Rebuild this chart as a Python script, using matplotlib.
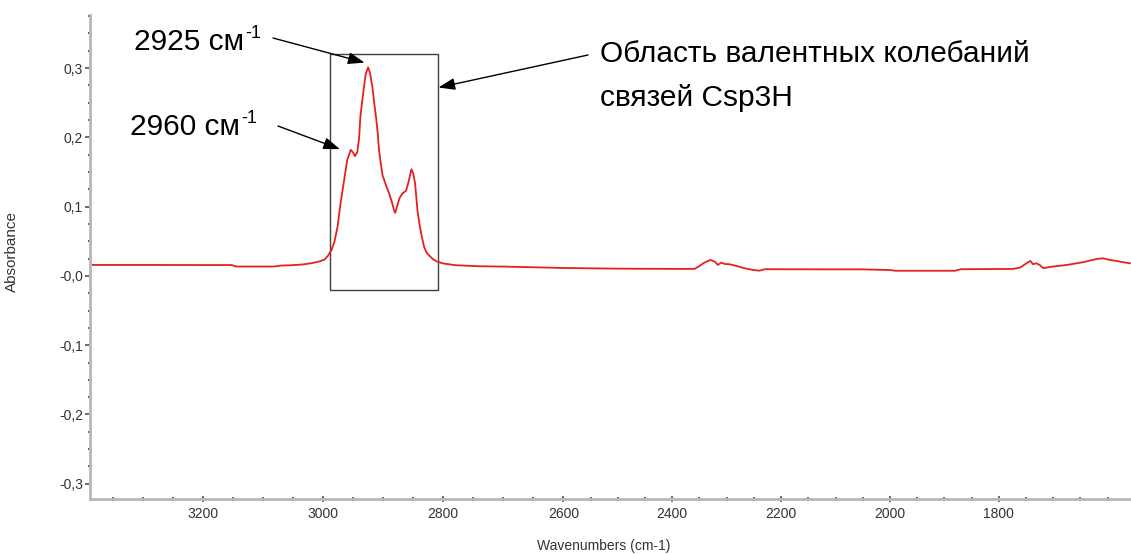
import matplotlib
matplotlib.use("Agg")
import matplotlib.pyplot as plt
import numpy as np
from matplotlib.patches import Rectangle
from matplotlib.ticker import MultipleLocator, FixedLocator

plt.rcParams['font.family'] = ['Liberation Sans', 'DejaVu Sans']

# IR spectrum, wavenumber (cm-1) vs absorbance
wavenumber = [3384, 3300, 3200, 3152, 3145, 3082, 3070, 3054, 3035, 3020, 3008,
              2998, 2992, 2986, 2981, 2976, 2971, 2965, 2960, 2954, 2950, 2947,
              2943, 2940, 2938, 2935, 2932, 2929, 2925, 2922, 2918, 2915, 2912,
              2909, 2907, 2904, 2901, 2899, 2895, 2890, 2885, 2882, 2880, 2877,
              2873, 2868, 2862, 2858, 2853, 2850, 2847, 2845, 2843, 2840, 2837,
              2832, 2828, 2824, 2817, 2810, 2800, 2780, 2740, 2700, 2650, 2600,
              2500, 2400, 2359, 2350, 2341, 2330, 2322, 2316, 2310, 2304, 2295,
              2282, 2267, 2252, 2240, 2230, 2100, 2050, 2000, 1990, 1880, 1870,
              1774, 1761, 1749, 1742, 1737, 1731, 1725, 1718, 1706, 1675, 1645,
              1620, 1609, 1596, 1583, 1572, 1559]
absorbance = [0.0159, 0.0159, 0.0157, 0.0157, 0.0136, 0.0136, 0.0150, 0.0154,
              0.0165, 0.0183, 0.0205, 0.0235, 0.0290, 0.0375, 0.050, 0.071,
              0.105, 0.1385, 0.167, 0.182, 0.178, 0.173, 0.179, 0.200, 0.230,
              0.252, 0.273, 0.292, 0.301, 0.293, 0.273, 0.250, 0.230, 0.205,
              0.182, 0.162, 0.145, 0.140, 0.130, 0.119, 0.105, 0.095, 0.091,
              0.100, 0.112, 0.119, 0.123, 0.135, 0.154, 0.148, 0.134, 0.115,
              0.095, 0.077, 0.062, 0.042, 0.034, 0.030, 0.024, 0.0206, 0.018,
              0.0155, 0.014, 0.0135, 0.0125, 0.0115, 0.0105, 0.0102, 0.0101,
              0.0144, 0.0192, 0.0231, 0.0206, 0.0159, 0.0192, 0.0173, 0.0169,
              0.0144, 0.0111, 0.0087, 0.0076, 0.0097, 0.0095, 0.0095, 0.0085,
              0.0075, 0.0075, 0.0097, 0.0101, 0.0120, 0.0183, 0.0216, 0.0169,
              0.0183, 0.0159, 0.0111, 0.0130, 0.0159, 0.0198, 0.0245, 0.0255,
              0.0231, 0.0216, 0.0198, 0.0183]

x_ticks = [3200, 3000, 2800, 2600, 2400, 2200, 2000, 1800]
y_ticks = [-0.3, -0.2, -0.1, 0.0, 0.1, 0.2, 0.3]
y_tick_labels = ['-0,3', '-0,2', '-0,1', '-0,0', '0,1', '0,2', '0,3']

# the wavenumber axis is drawn with a wider step above 2600 than below
def fwd(x):
    x = np.asarray(x, dtype=float)
    return np.where(x >= 2600, (x - 2600) * 0.600, (x - 2600) * 0.5435)

def inv(u):
    u = np.asarray(u, dtype=float)
    return np.where(u >= 0, u / 0.600 + 2600, u / 0.5435 + 2600)

fig = plt.figure(figsize=(11.31, 5.54), dpi=100)
ax = fig.add_axes([0.0796, 0.0993, 0.9204, 0.874])
ax.set_xscale('function', functions=(fwd, inv))

ax.plot(wavenumber, absorbance, color='#e62020', lw=1.3)

ax.set_xlim(3388, 1557)
ax.set_ylim(-0.322, 0.377)

ax.xaxis.set_major_locator(FixedLocator(x_ticks))
ax.xaxis.set_minor_locator(MultipleLocator(50))
ax.set_xticklabels([str(t) for t in x_ticks])
ax.set_yticks(y_ticks)
ax.set_yticklabels(y_tick_labels)
ax.yaxis.set_minor_locator(MultipleLocator(0.025))

for side in ['top', 'right']:
    ax.spines[side].set_visible(False)
for side in ['left', 'bottom']:
    ax.spines[side].set_color('#b8b8b8')
    ax.spines[side].set_linewidth(2.0)

ax.tick_params(axis='both', which='major', labelsize=10, labelcolor='#333333',
               color='#444444', width=1.1)
ax.tick_params(axis='x', which='major', direction='inout', length=5, pad=3)
ax.tick_params(axis='y', which='major', direction='out', length=3.5, pad=1.5)
ax.tick_params(axis='both', which='minor', direction='inout', length=2.2,
               width=1.2, color='#444444')

ax.set_xlabel('Wavenumbers (cm-1)', fontsize=10, color='#333333')
ax.xaxis.set_label_coords(0.493, -0.082)
ax.set_ylabel('Absorbance', fontsize=11, color='#333333')
ax.yaxis.set_label_coords(-0.068, 0.512)

# frame around the C-H stretching region
ax.add_patch(Rectangle((2989, -0.0206), 2809 - 2989, 0.320 + 0.0206,
                       fill=False, edgecolor='#404040', lw=1.0))

arrow = dict(arrowstyle='-|>,head_length=0.5,head_width=0.18',
             mutation_scale=20, color='black', lw=1.0,
             shrinkA=0, shrinkB=0)
ax.annotate('', xy=(2931, 0.308), xycoords='data',
            xytext=(273, 516), textcoords='figure pixels', arrowprops=arrow)
ax.annotate('', xy=(2972, 0.183), xycoords='data',
            xytext=(278, 428), textcoords='figure pixels', arrowprops=arrow)
ax.annotate('', xy=(2808, 0.272), xycoords='data',
            xytext=(588, 499), textcoords='figure pixels', arrowprops=arrow)

# peak labels with a raised "-1"
for label, left, base in [('2925 см', 134, 50), ('2960 см', 130, 135)]:
    t = fig.text(left / 1131, 1 - base / 554, label, fontsize=21.5,
                 ha='left', va='baseline')
    fig.canvas.draw()
    fig.text(0, 0, '-1', fontsize=13, ha='left', va='top',
             transform=matplotlib.transforms.offset_copy(
                 matplotlib.transforms.IdentityTransform(), fig=fig,
                 x=t.get_window_extent().x1 + 1,
                 y=t.get_window_extent().y1 + 3, units='dots'))

fig.text(600 / 1131, 1 - 62 / 554, 'Область валентных колебаний',
         fontsize=21.5, ha='left', va='baseline')
fig.text(600 / 1131, 1 - 106 / 554, 'связей Csp3H', fontsize=21.5,
         ha='left', va='baseline')

fig.savefig('out.png', dpi=100)
